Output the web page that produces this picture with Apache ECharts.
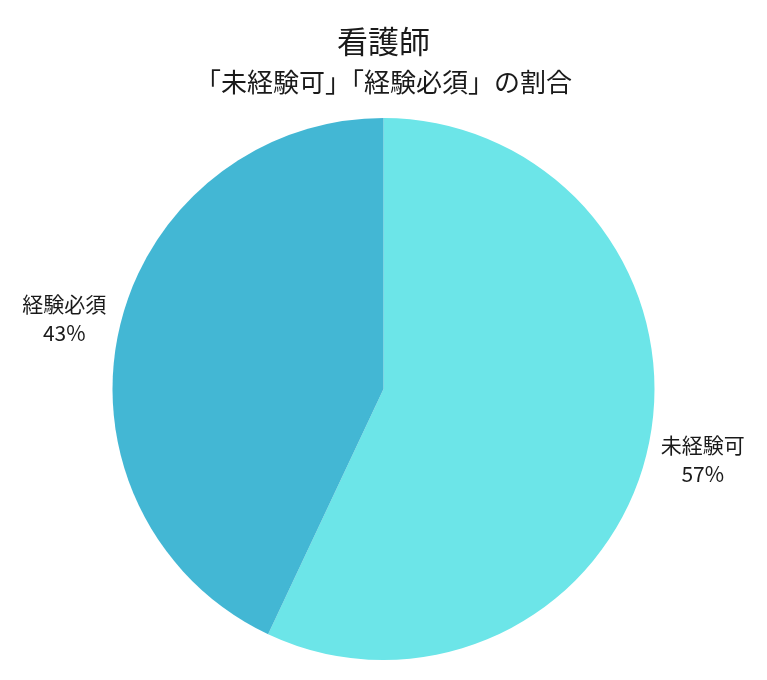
<!DOCTYPE html>
<html>
<head>
<meta charset="utf-8">
<script src="https://cdn.jsdelivr.net/npm/echarts@6/dist/echarts.min.js"></script>
<style>
  html, body { margin: 0; padding: 0; background: #fff; }
  #chart { width: 767px; height: 680px; }
</style>
</head>
<body>
<div id="chart"></div>
<script>
// データ
const CATEGORIES = ['未経験可', '経験必須'];
const VALUES = [57, 43];
const COLORS = ['#6ce5e8', '#43b7d4'];

const FONT = '"Noto Sans CJK JP", "Noto Sans", sans-serif';

const chart = echarts.init(document.getElementById('chart'));
const option = {
  backgroundColor: '#ffffff',
  title: [{
    text: '看護師',
    left: 'center',
    top: 21,
    textStyle: { fontFamily: FONT, fontSize: 31, fontWeight: 'normal', color: '#1a1a1a' }
  }, {
    text: '「未経験可」「経験必須」の割合',
    left: 'center',
    top: 64,
    textStyle: { fontFamily: FONT, fontSize: 26, fontWeight: 'normal', color: '#1a1a1a' }
  }],
  series: [{
    type: 'pie',
    center: ['50%', 389],
    radius: 271,
    startAngle: 90,
    clockwise: true,
    silent: true,
    data: CATEGORIES.map((name, i) => ({
      name: name,
      value: VALUES[i],
      itemStyle: { color: COLORS[i] }
    })),
    label: {
      show: true,
      position: 'outside',
      overflow: 'none',
      edgeDistance: 0,
      formatter: '{a|{b}}\n{a|{d}%}',
      align: 'center',
      rich: {
        a: { fontFamily: FONT, fontSize: 21, color: '#1a1a1a', align: 'center', lineHeight: 29 }
      }
    },
    labelLine: { show: false, length: 51, length2: 0 },
    labelLayout: function () {
      return { align: 'center' };
    }
  }]
};
chart.setOption(option);
</script>
</body>
</html>
